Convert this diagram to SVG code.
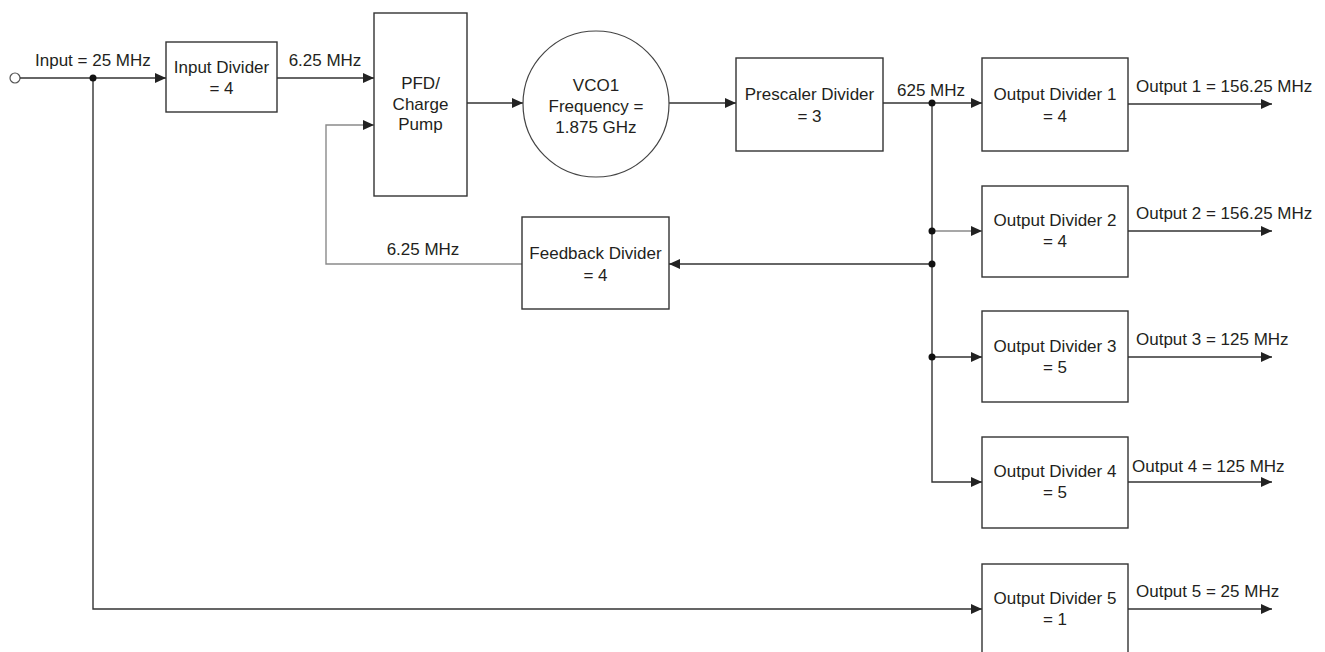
<svg xmlns="http://www.w3.org/2000/svg" width="1325" height="652" viewBox="0 0 1325 652">
<style>
.box{fill:#fff;stroke:#333;stroke-width:1.4}
.ln{fill:none;stroke:#333;stroke-width:1.4}
.lg{fill:none;stroke:#8a8a8a;stroke-width:1.4}
text{font-family:"Liberation Sans",Arial,sans-serif;font-size:17px;fill:#231f20}
.c{text-anchor:middle}
.dot{fill:#111}
</style>
<defs>
<marker id="ah" markerUnits="userSpaceOnUse" markerWidth="12" markerHeight="11" refX="11" refY="5" orient="auto">
<path d="M0,0 L11,5 L0,10 z" fill="#222"/>
</marker>
</defs>
<rect width="1325" height="652" fill="#fff"/>
<g id="connectors">
<circle cx="15" cy="78" r="5" fill="#fff" stroke="#555" stroke-width="1.2"/>
<path class="ln" d="M20,78 H166" marker-end="url(#ah)"/>
<path class="ln" d="M93,78 V609 H982" marker-end="url(#ah)"/>
<path class="ln" d="M277,78 H374" marker-end="url(#ah)"/>
<path class="lg" d="M522,264 H326 V125 H374" marker-end="url(#ah)"/>
<path class="ln" d="M467,103 H523" marker-end="url(#ah)"/>
<path class="ln" d="M669,103 H736" marker-end="url(#ah)"/>
<path class="ln" d="M883,103 H982" marker-end="url(#ah)"/>
<path class="ln" d="M932,103 V482 H982" marker-end="url(#ah)"/>
<path class="lg" d="M932,231 H982" marker-end="url(#ah)"/>
<path class="ln" d="M932,357 H982" marker-end="url(#ah)"/>
<path class="ln" d="M932,264 H669" marker-end="url(#ah)"/>
<path class="ln" d="M1128,104 H1272" marker-end="url(#ah)"/>
<path class="ln" d="M1128,231 H1272" marker-end="url(#ah)"/>
<path class="ln" d="M1128,357 H1272" marker-end="url(#ah)"/>
<path class="ln" d="M1128,482 H1272" marker-end="url(#ah)"/>
<path class="ln" d="M1128,609 H1272" marker-end="url(#ah)"/>
<circle class="dot" cx="93" cy="78" r="3.5"/>
<circle class="dot" cx="932" cy="103" r="3.5"/>
<circle class="dot" cx="932" cy="231" r="3.5"/>
<circle class="dot" cx="932" cy="264" r="3.5"/>
<circle class="dot" cx="932" cy="357" r="3.5"/>
<text x="35" y="66">Input = 25 MHz</text>
<text class="c" x="325" y="66">6.25 MHz</text>
<text class="c" x="423" y="255">6.25 MHz</text>
<text x="897" y="96">625 MHz</text>
<text x="1136" y="92">Output 1 = 156.25 MHz</text>
<text x="1136" y="219">Output 2 = 156.25 MHz</text>
<text x="1136" y="345">Output 3 = 125 MHz</text>
<text x="1132" y="472">Output 4 = 125 MHz</text>
<text x="1136" y="597">Output 5 = 25 MHz</text>
</g>
<g id="input-divider">
<rect class="box" x="166" y="42" width="111" height="70"/>
<text class="c" x="221.5" y="73">Input Divider</text>
<text class="c" x="221.5" y="94">= 4</text>
</g>
<g id="pfd">
<rect class="box" x="374" y="13" width="93" height="183"/>
<text class="c" x="420.5" y="89">PFD/</text>
<text class="c" x="420.5" y="110">Charge</text>
<text class="c" x="420.5" y="130">Pump</text>
</g>
<g id="vco">
<circle cx="596" cy="104" r="73" fill="#fff" stroke="#444" stroke-width="1.2"/>
<text class="c" x="596" y="91">VCO1</text>
<text class="c" x="596" y="112">Frequency =</text>
<text class="c" x="596" y="133">1.875 GHz</text>
</g>
<g id="prescaler">
<rect class="box" x="736" y="58" width="147" height="93"/>
<text class="c" x="809.5" y="100">Prescaler Divider</text>
<text class="c" x="809.5" y="122">= 3</text>
</g>
<g id="feedback-divider">
<rect class="box" x="522" y="217" width="147" height="92"/>
<text class="c" x="595.5" y="259">Feedback Divider</text>
<text class="c" x="595.5" y="281">= 4</text>
</g>
<g id="output-divider-1">
<rect class="box" x="982" y="58" width="146" height="93"/>
<text class="c" x="1055" y="100">Output Divider 1</text>
<text class="c" x="1055" y="122">= 4</text>
</g>
<g id="output-divider-2">
<rect class="box" x="982" y="186" width="146" height="91"/>
<text class="c" x="1055" y="226">Output Divider 2</text>
<text class="c" x="1055" y="247">= 4</text>
</g>
<g id="output-divider-3">
<rect class="box" x="982" y="311" width="146" height="91"/>
<text class="c" x="1055" y="352">Output Divider 3</text>
<text class="c" x="1055" y="373">= 5</text>
</g>
<g id="output-divider-4">
<rect class="box" x="982" y="437" width="146" height="91"/>
<text class="c" x="1055" y="477">Output Divider 4</text>
<text class="c" x="1055" y="498">= 5</text>
</g>
<g id="output-divider-5">
<rect class="box" x="982" y="564" width="146" height="95"/>
<text class="c" x="1055" y="604">Output Divider 5</text>
<text class="c" x="1055" y="625">= 1</text>
</g>
</svg>
